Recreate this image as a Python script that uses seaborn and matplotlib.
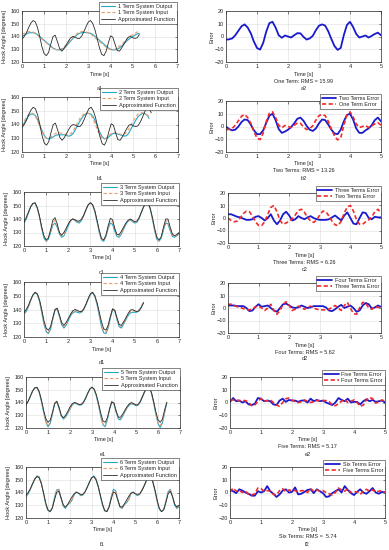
"""Hook angle tracking: system output vs. approximated function, and the error per term count."""

import matplotlib.pyplot as plt
import matplotlib.transforms as mtransforms
import numpy as np
import seaborn as sns

plt.switch_backend("Agg")

# samples every 0.1 s
TIME_STEP = 0.1

# approximated hook-angle function (two recordings with a different time origin)
APPROX_LATE = [
    138, 140, 143, 147, 150.5, 152.5, 151.5, 147, 140, 132,
    126.5, 125, 127.5, 134, 140, 141, 136, 130.5, 128.5, 130.5,
    133.5, 136.5, 139, 140, 139.5, 138.5, 138.5, 140.5, 144, 148,
    151.5, 152.5, 150, 145, 138, 131, 126, 125, 128.5, 135,
    140.5, 139.5, 134, 129, 128.5, 131, 134, 137, 139.5, 140,
    139, 138.5, 139, 141.5, 145, 149, 152, 152, 148.5, 142,
    134, 127.5, 125, 126.5, 132, 139, 141, 137, 131, 128.5, 130,
]
APPROX_EARLY = [
    138, 141, 145, 149, 151.5, 152, 148.5, 142, 134, 127.5,
    124.5, 126, 132, 139, 141, 136.5, 130, 128, 130, 133,
    136.5, 139, 140, 139.5, 138.5, 138.5, 140, 143, 147, 150.5,
    152, 150.5, 146, 139, 131.5, 125.5, 124.5, 128, 135, 140.5,
    139.5, 133, 128.5, 128.5, 131, 134, 137, 139, 140, 139,
    138, 138.5, 141, 145, 149, 151.5, 152, 148, 141, 133,
    126.5, 124.5, 127, 134, 140, 140, 134, 129, 127.5, 128.5, 130,
]

# system outputs / inputs (1 .. 6 terms)
OUTPUT_1 = [
    140, 141, 142, 142.8, 143, 143, 142.5, 141.5, 140, 138.5,
    137, 135.5, 134, 132.5, 131, 130, 129.5, 129.5, 130, 131,
    132.5, 134.5, 136.5, 138.5, 140, 141.5, 142.5, 143, 143.2, 143,
    142.8, 142.5, 141.5, 140, 138.5, 137, 135.5, 134, 132.5, 131,
    130, 129.5, 129.5, 130, 131, 132.5, 134, 136, 137.5, 139,
    140, 141, 142, 142.5,
]
INPUT_1 = [
    141.5, 142.5, 143.3, 143.8, 144, 143.5, 142.5, 141, 139.5, 138,
    136.5, 135, 133.5, 132, 130.8, 130, 129.5, 129.8, 130.5, 132,
    133.5, 135.5, 137.5, 139.5, 141, 142.5, 143.5, 144, 144, 143.5,
    143, 142, 140.5, 139, 137.5, 136, 134.5, 133, 131.5, 130.3,
    129.6, 129.5, 130, 131, 132.5, 134, 135.5, 137.5, 139, 140.5,
    141.5, 142.5, 143.5, 144,
]
OUTPUT_2 = [
    138, 141, 144, 146.5, 147.5, 147.5, 146.5, 143.5, 139.5, 135.5,
    132, 130, 129.5, 130, 131, 132, 132.5, 132.5, 132.5, 132.5,
    132, 131.5, 132, 133.5, 136.5, 139.5, 142.5, 145, 147, 148,
    148, 147.5, 145.5, 142, 138, 134, 131, 129.5, 130, 131,
    132.5, 133.5, 133.5, 133, 132.5, 132, 131.5, 132, 134, 137,
    140, 143, 145.5, 147, 148, 148, 147, 144.5,
]
INPUT_2 = [
    139, 142.5, 145.5, 147.5, 148.5, 148, 146, 142.5, 138.5, 134.5,
    131.5, 130, 130, 131, 132.5, 133.5, 134, 134, 133.5, 133,
    132.5, 132.5, 133.5, 135.5, 138.5, 141.5, 144.5, 146.5, 148, 148.5,
    148, 146.5, 143.5, 139.5, 135.5, 132, 130, 129.5, 130.5, 132,
    133.5, 134, 134, 133.5, 133, 132.5, 133, 134.5, 137, 140,
    143, 145.5, 147.5, 148.5, 148.5, 148, 147, 146,
]
OUTPUT_3 = [
    137, 140, 144.5, 149, 151.5, 151.5, 148, 141.5, 133, 126,
    123.5, 125, 130, 135.5, 137, 134, 129, 126.5, 127.5, 131,
    135, 138.5, 140, 139, 137.5, 137, 139, 142.5, 147, 150.5,
    152, 150.5, 145.5, 138, 130, 124.5, 123.5, 127, 133, 137,
    136, 131, 127, 126.5, 129, 132.5, 136, 138.5, 139.5, 138,
    137, 137.5, 140.5, 145, 149, 151.5, 151.5, 147.5, 140, 131.5,
    125, 123.5, 126, 132, 137, 136.5, 131.5, 127, 126.5, 127.5, 129,
]
INPUT_3 = [
    137.5, 140.5, 145, 149, 151.5, 152, 148.5, 142, 133.5, 127,
    124, 125.5, 131, 137, 139, 135.5, 129.5, 127.5, 129, 132,
    135.5, 138.5, 140, 139.5, 138, 138, 139.5, 143, 147, 150.5,
    152, 150.5, 146, 138.5, 131, 125, 124, 127.5, 134, 139,
    138, 132, 128, 127.5, 130, 133.5, 136.5, 138.5, 139.5, 138.5,
    137.5, 138, 141, 145, 149, 151.5, 152, 148, 140.5, 132,
    125.5, 124, 126.5, 133, 138.5, 138.5, 133, 128, 127, 128, 129.5,
]
OUTPUT_4 = [
    137, 138.5, 142, 146.5, 150.5, 152, 151, 146, 138, 129.5,
    124, 122.5, 125.5, 133, 139.5, 140.5, 135, 129, 126.5, 128.5,
    132, 135.5, 137.5, 138.5, 138, 137.5, 138, 140, 143.5, 147.5,
    151, 152, 149.5, 143.5, 135.5, 127.5, 123, 122.5, 126.5, 134,
    140, 139, 132.5, 127.5, 126.5, 129.5, 132.5, 135.5, 137.5, 138,
    138, 138, 139.5, 142, 145,
]
INPUT_4 = [
    137.5, 139.5, 142.5, 147, 150.5, 152.5, 151.5, 146.5, 139, 130.5,
    125, 123.5, 126.5, 133.5, 140, 141, 135.5, 130, 127.5, 129.5,
    133, 136.5, 138.5, 139.5, 139, 138, 138.5, 140.5, 144, 148,
    151.5, 152.5, 150, 144.5, 137, 129, 124, 123.5, 127.5, 134.5,
    140.5, 139.5, 133.5, 128.5, 127.5, 130.5, 133.5, 136.5, 138.5, 139.5,
    139, 138.5, 140, 142.5, 145,
]
OUTPUT_5 = [
    138.5, 141, 145, 149, 151.5, 151.5, 148, 141, 132.5, 125,
    121, 123.5, 131, 139, 140.5, 135.5, 129.5, 127, 128.5, 131.5,
    135, 138, 139.5, 139, 138, 138, 139.5, 143, 147, 150.5,
    152, 150, 145, 137.5, 129, 122.5, 121, 126.5, 135, 140.5,
    139, 132.5, 127, 126.5, 129.5, 133, 136, 138, 139, 138.5,
    137.5, 138, 140.5, 144.5, 148.5, 151.5, 151.5, 147.5, 140, 131,
    123.5, 120.5, 124, 132, 140,
]
INPUT_5 = [
    139, 141, 145, 149, 151.5, 152, 148.5, 141.5, 133, 125.5,
    122, 124, 131.5, 139.5, 141, 136, 130, 127.5, 129, 132,
    135.5, 138.5, 140, 139.5, 138.5, 138.5, 140, 143, 147, 150.5,
    152, 150.5, 145.5, 138, 129.5, 123, 122, 127, 135.5, 141,
    139.5, 133, 128, 127.5, 130, 133.5, 136.5, 138.5, 139.5, 139,
    138, 138.5, 141, 145, 149, 151.5, 152, 148, 140.5, 131.5,
    124, 122, 125, 133, 140.5,
]
OUTPUT_6 = [
    136.5, 139, 142.5, 146.5, 150.5, 153, 152.5, 147.5, 139.5, 131,
    126, 125, 128, 135.5, 142, 142.5, 136, 129.5, 127.5, 130.5,
    131.5, 134, 138, 140.5, 139.5, 137.5, 138, 140.5, 144, 148,
    151.5, 153, 151, 145, 137.5, 130, 125.5, 125, 129, 136.5,
    142.5, 141.5, 134.5, 128.5, 127.5, 130.5, 132, 134.5, 139, 140.5,
    139, 137.5, 138.5, 141.5, 145, 149, 152.5, 152.5, 148.5, 141.5,
    133, 127, 125, 126.5, 133, 140.5, 142.5, 137, 130, 127.5, 129,
]
INPUT_6 = [
    137, 139.5, 143, 147, 150.5, 152.5, 152, 147.5, 140, 131.5,
    126, 125, 127.5, 135, 141.5, 142, 136, 130, 128, 130.5,
    132, 135, 138.5, 140.5, 139.5, 138, 138.5, 140.5, 144, 148,
    151.5, 152.5, 150.5, 145, 137.5, 130.5, 126, 125, 129, 136,
    141.5, 141, 134.5, 129, 128, 130.5, 132.5, 135, 139, 140.5,
    139, 138, 138.5, 141.5, 145, 149, 152, 152.5, 148.5, 142,
    133.5, 127.5, 125, 126.5, 132.5, 140, 142, 137, 131, 128, 129.5,
]

# tracking error for 1 .. 6 terms (0 .. 5 s)
ERROR_1 = [
    -2.5, -2.2, -1.5, 1, 4.5, 8, 9.5, 7, 2.5, -4,
    -9, -10.3, -5, 4, 10.5, 11.5, 7, 1, -1, 0.8,
    0, -0.8, 1, 2.6, 2.5, -0.3, -2.4, -1.5, 0.5, 5,
    8.5, 9.5, 8.5, 4, -2, -7.5, -10.5, -9, 1, 9,
    11.5, 7.5, 2, -0.8, 0, 0.8, -0.8, 0.5, 2, 3, 1,
]
ERROR_2 = [
    0, -2, -3, -2.5, 0, 3.5, 5.5, 5, 1.5, -3,
    -6, -6, -3, 3, 8.5, 10, 5, -2, -5, -4,
    -2.5, -0.5, 2.5, 6, 7, 4.5, 0.5, -2.5, -3.5, -1.5,
    2.5, 5.5, 5, 1.5, -2.5, -5.5, -6, -2.5, 4, 9,
    10, 5.5, -1.5, -5, -5, -3, -1.5, 1, 5, 7, 4,
]
ERROR_3 = [
    3, 3, 2, 1, 0.5, -0.5, -1.5, -1.5, -1, 1,
    1.5, 0, -2, 0, 3, -2, -5, -2, 3, 5,
    2, -2, -1, 1.5, 0, -1, 0.5, 1.5, 0, -1,
    -1.5, -1.5, -1.5, -1, 0.5, 2, 0, -2, 2, 4.5,
    0, -4.5, -5, 0, 4.5, 4, 0, -1, 1, 0.5, 0.5,
]
ERROR_4 = [
    2, 2, 2, 1.5, 1.5, 1.5, 0, -2.5, -2, 1,
    3, 1, 1.5, 2, 0, -2, -3, 0, 3, 3.5,
    2, 0.5, 0, 0.5, 2, 1, 0, 0.5, 1.5, 1.5,
    1.5, 1.5, 0.5, -2, -2.5, -1, 1, 2.5, 0, 1,
    2, 0, -3, -2, 2, 4, 3, -0.5, 0.5, 2, 1,
]
ERROR_5 = [
    0.5, 3.5, 1, 1.5, 0, 1, -1.5, -2, -1, 3.5,
    3, 1, 1.5, 1, -1.5, -2, 1.5, 3, 0.5, 2,
    1.5, 1.5, 0.5, 1.5, 1.5, 0, 3, 1, 2, 1,
    1.5, 0, -1, -2, 0, 3.5, 2, 1, 3, 0,
    0.5, 0.5, -1.5, 1, 2.5, 1, 2, 0.5, 1, 1.5, 0,
]
ERROR_6 = [
    2, 1, -0.5, 2.5, 1.5, 0, -1, -2.5, -2.5, 1,
    0, 1, 5, 1, -1, -3.5, -1.5, 1.5, 2.5, 0,
    0.5, 4, -1.5, -1, 0.5, 2, 2.5, -0.5, 2.5, 1,
    -0.5, -3.5, -3, -0.5, 1, 2.5, 0, 5, 2, -0.5,
    -2, 0.5, 2.5, 0, -1, 1, 3.5, 0, -1, 0.5, 0,
]

TERM_WORDS = ["One", "Two", "Three", "Four", "Five", "Six"]
RMS_VALUES = ["15.99", "13.26", "6.26", "5.62", "5.17", " 5.74"]
ROW_TAGS = ["a", "b", "c", "d", "e", "f"]

# axes boxes in pixels: (left, top, right, bottom)
LEFT_BOXES = [
    (22, 11, 177, 62), (22, 97, 178, 152), (24, 192, 179, 246),
    (24, 282, 179, 337), (26, 377, 180, 428), (26, 467, 179, 518),
]
RIGHT_BOXES = [
    (226, 11, 381, 62), (226, 101, 381, 152), (228, 193, 381, 243),
    (228, 283, 381, 333), (230, 377, 385, 428), (230, 467, 385, 518),
]

FIG_W, FIG_H = 389, 550
C_OUT = "#26a7c6"
C_IN = "#f09a6a"
C_APPROX = "#2b2b2b"
C_BLUE = "#1a1acd"
C_RED = "#f02a2a"


def times_for(values):
    return np.round(np.arange(len(values)) * TIME_STEP, 2)


def make_axes(fig, box):
    left, top, right, bottom = box
    return fig.add_axes([
        left / FIG_W, 1 - bottom / FIG_H,
        (right - left) / FIG_W, (bottom - top) / FIG_H,
    ])


def text_below(ax, text, px):
    trans = mtransforms.offset_copy(ax.transAxes, fig=ax.figure, y=-px, units="dots")
    ax.text(0.5, 0.0, text, transform=trans, ha="center", va="center", fontsize=4)


def style_axes(ax):
    ax.grid(True, color="#dcdcdc", linewidth=0.4)
    ax.set_axisbelow(True)
    for spine in ax.spines.values():
        spine.set_linewidth(0.5)
        spine.set_color("#262626")
    ax.tick_params(direction="in", length=1.8, width=0.4, labelsize=4, pad=1.5,
                   top=True, right=True, colors="#262626")


def add_legend(ax, box, labels_px=7):
    height = box[3] - box[1]
    ax.legend(loc="upper right", bbox_to_anchor=(1.0, 1 + labels_px / height),
              borderaxespad=0, fontsize=4, handlelength=2.6, handletextpad=0.5,
              labelspacing=0.25, borderpad=0.35, fancybox=False, framealpha=1,
              edgecolor="#262626").get_frame().set_linewidth(0.4)


sns.set_theme(style="white")
plt.rcParams["font.family"] = ["Liberation Sans", "DejaVu Sans"]

fig = plt.figure(figsize=(FIG_W / 100, FIG_H / 100), dpi=100)

outputs = [OUTPUT_1, OUTPUT_2, OUTPUT_3, OUTPUT_4, OUTPUT_5, OUTPUT_6]
inputs = [INPUT_1, INPUT_2, INPUT_3, INPUT_4, INPUT_5, INPUT_6]
approx = [APPROX_LATE[:54], APPROX_LATE[:59], APPROX_EARLY, APPROX_LATE[:55],
          APPROX_EARLY[:65], APPROX_LATE]
errors = [ERROR_1, ERROR_2, ERROR_3, ERROR_4, ERROR_5, ERROR_6]

for i in range(6):
    n = i + 1

    # left: hook angle
    ax = make_axes(fig, LEFT_BOXES[i])
    style_axes(ax)
    sns.lineplot(x=times_for(outputs[i]), y=outputs[i], ax=ax, color=C_OUT,
                 linewidth=0.8, label=f"{n} Term System Output")
    sns.lineplot(x=times_for(inputs[i]), y=inputs[i], ax=ax, color=C_IN,
                 linewidth=0.8, linestyle=(0, (3, 2)), label=f"{n} Term System Input")
    sns.lineplot(x=times_for(approx[i]), y=approx[i], ax=ax, color=C_APPROX,
                 linewidth=0.6, label="Approximated Function")
    ax.set_xlim(0, 7)
    ax.set_ylim(120, 160)
    ax.set_xticks(range(0, 8))
    ax.set_yticks([120, 130, 140, 150, 160])
    ax.set_xlabel("")
    ax.set_ylabel("Hook Angle [degrees]", fontsize=4)
    ax.yaxis.set_label_coords(-0.095, 0.5)
    add_legend(ax, LEFT_BOXES[i], labels_px=9)
    text_below(ax, "Time [s]", 12)
    text_below(ax, f"{ROW_TAGS[i]}1", 26)

    # right: error
    ax = make_axes(fig, RIGHT_BOXES[i])
    style_axes(ax)
    word = TERM_WORDS[i]
    current = "Term" if n == 1 else "Terms"
    sns.lineplot(x=times_for(errors[i]), y=errors[i], ax=ax, color=C_BLUE,
                 linewidth=1.3, label=f"{word} {current} Error")
    if i > 0:
        prev = "Term" if n == 2 else "Terms"
        sns.lineplot(x=times_for(errors[i - 1]), y=errors[i - 1], ax=ax, color=C_RED,
                     linewidth=1.2, linestyle=(0, (2.5, 1.5)),
                     label=f"{TERM_WORDS[i - 1]} {prev} Error")
        add_legend(ax, RIGHT_BOXES[i])
    else:
        ax.get_legend().remove()
    ax.set_xlim(0, 5)
    ax.set_ylim(-20, 20)
    ax.set_xticks(range(0, 6))
    ax.set_yticks([-20, -10, 0, 10, 20])
    ax.set_xlabel("")
    ax.set_ylabel("Error", fontsize=4)
    ax.yaxis.set_label_coords(-0.075, 0.5)
    text_below(ax, "Time [s]", 12)
    text_below(ax, f"{word} {current}: RMS = {RMS_VALUES[i]}", 19)
    text_below(ax, f"{ROW_TAGS[i]}2", 26)

fig.savefig("out.png", dpi=100)
plt.close(fig)
